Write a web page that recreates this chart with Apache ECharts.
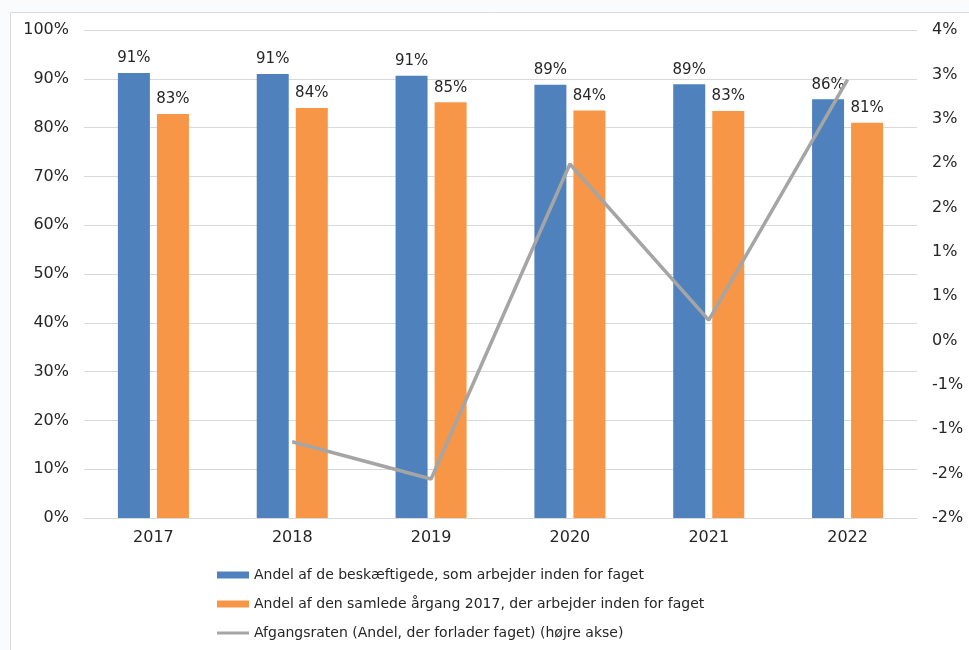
<!DOCTYPE html>
<html>
<head>
<meta charset="utf-8">
<script src="https://cdn.jsdelivr.net/npm/echarts@6/dist/echarts.min.js"></script>
<style>
html,body{margin:0;padding:0;background:#fafbfd;}
#c{width:969px;height:650px;}
</style>
</head>
<body>
<div id="c"></div>
<script>
const categories = ['2017', '2018', '2019', '2020', '2021', '2022'];
const seriesNames = [
  'Andel af de beskæftigede, som arbejder inden for faget',
  'Andel af den samlede årgang 2017, der arbejder inden for faget',
  'Afgangsraten (Andel, der forlader faget) (højre akse)'
];
const employedShare = [91.2, 91.0, 90.6, 88.8, 88.9, 85.8];
const cohortShare = [82.8, 84.0, 85.2, 83.5, 83.4, 81.0];
const dropoutRate = [null, -1.14, -1.56, 1.99, 0.23, 2.94];

function roundHalfAway(v) {
  const s = v < 0 ? -1 : 1;
  const r = s * Math.round(Math.abs(v) + 1e-9);
  return r === 0 ? 0 : r;
}

const chart = echarts.init(document.getElementById('c'), null, {renderer: 'canvas'});
const font = 'DejaVu Sans';
const legendText = {fontFamily: font, fontSize: 14, color: '#262626'};
chart.setOption({
  backgroundColor: '#fafbfd',
  animation: false,
  graphic: [{
    type: 'rect', z: -10, silent: true,
    shape: {x: 10.5, y: 12.5, width: 1000, height: 700},
    style: {fill: '#ffffff', stroke: '#d9d9d9', lineWidth: 1}
  }],
  grid: {left: 84, right: 52, top: 30, bottom: 132, containLabel: false},
  legend: [{
    left: 217, top: 568, itemWidth: 32, itemHeight: 7, padding: 0,
    textStyle: legendText,
    data: [{name: seriesNames[0], icon: 'rect'}]
  }, {
    left: 217, top: 597, itemWidth: 32, itemHeight: 7, padding: 0,
    textStyle: legendText,
    data: [{name: seriesNames[1], icon: 'rect'}]
  }, {
    left: 217, top: 626, itemWidth: 32, itemHeight: 3, padding: 0,
    textStyle: legendText,
    data: [{name: seriesNames[2], icon: 'rect', itemStyle: {color: '#a5a5a5'}}]
  }],
  xAxis: {
    type: 'category',
    data: categories,
    axisLine: {lineStyle: {color: '#d9d9d9'}},
    axisTick: {show: false},
    axisLabel: {fontFamily: font, fontSize: 16, color: '#262626', margin: 12}
  },
  yAxis: [{
    type: 'value', min: 0, max: 100, interval: 10,
    axisLine: {show: false}, axisTick: {show: false},
    splitLine: {lineStyle: {color: '#d9d9d9'}},
    axisLabel: {fontFamily: font, fontSize: 16, color: '#262626', margin: 15,
      formatter: v => v + '%'}
  }, {
    type: 'value', min: -2, max: 3.5, interval: 0.5,
    axisLine: {show: false}, axisTick: {show: false},
    splitLine: {show: false},
    axisLabel: {fontFamily: font, fontSize: 16, color: '#262626', margin: 15,
      formatter: v => roundHalfAway(v) + '%'}
  }],
  series: [{
    name: seriesNames[0], type: 'bar', yAxisIndex: 0,
    data: employedShare, barWidth: 32, barGap: '22%',
    itemStyle: {color: '#4f81bd'},
    label: {show: true, position: 'top', distance: 7, fontFamily: font, fontSize: 15, color: '#262626',
      formatter: p => Math.round(p.value) + '%'}
  }, {
    name: seriesNames[1], type: 'bar', yAxisIndex: 0,
    data: cohortShare, barWidth: 32, barGap: '22%',
    itemStyle: {color: '#f79646'},
    label: {show: true, position: 'top', distance: 7, fontFamily: font, fontSize: 15, color: '#262626',
      formatter: p => Math.round(p.value) + '%'}
  }, {
    name: seriesNames[2], type: 'line', yAxisIndex: 1,
    data: dropoutRate, symbol: 'none', showSymbol: false,
    lineStyle: {color: '#a5a5a5', width: 3.5},
    itemStyle: {color: '#a5a5a5'}, z: 5
  }]
});
</script>
</body>
</html>
